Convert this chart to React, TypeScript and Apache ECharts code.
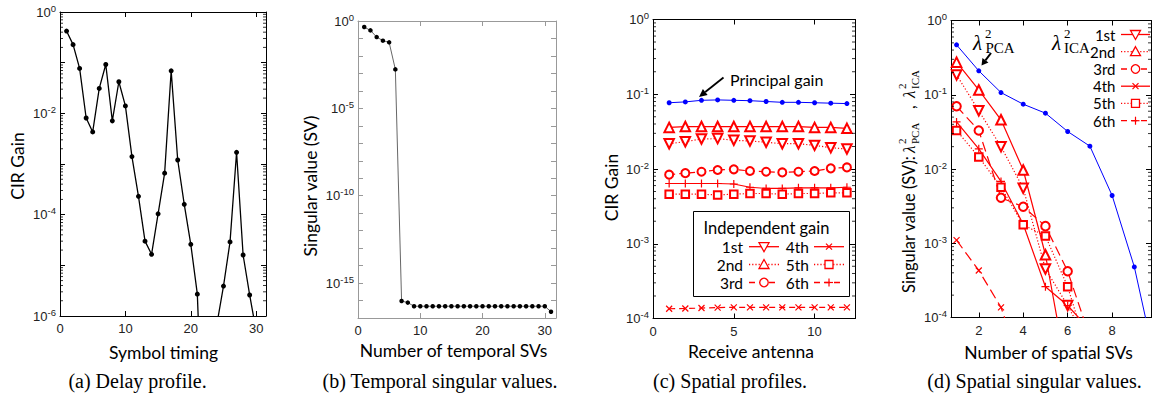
import React, { useEffect, useRef } from "react";
import * as echarts from "echarts";

const RED = "#ff0000";
const BLUE = "#0000ff";
const SANS = "Lato, 'Open Sans', sans-serif";
const SERIF = "'Liberation Serif', 'DejaVu Serif', serif";
const TICKF = "'Liberation Sans', Arial, sans-serif";

// (a) Delay profile
const symbolTiming = [1, 2, 3, 4, 5, 6, 7, 8, 9, 10, 11, 12, 13, 14, 15, 16, 17, 18, 19, 20, 21, 22, 23, 24, 25, 26, 27, 28, 29, 30, 31];
const delayGain = [0.42, 0.227, 0.077, 0.0081, 0.0043, 0.031, 0.092, 0.0071, 0.042, 0.014, 0.0014, 2.3e-4, 3.0e-5, 1.65e-5, 1.04e-4, 6.6e-4, 0.069, 0.0012, 1.6e-4, 2.6e-5, 2.7e-6, 1e-9, 1e-10, 7e-7, 3.9e-6, 2.9e-5, 0.0017, 1.6e-5, 2.6e-6, 5e-7, 1e-8];

// (b) Temporal singular values
const temporalIndex = [1, 2, 3, 4, 5, 6, 7, 8, 9, 10, 11, 12, 13, 14, 15, 16, 17, 18, 19, 20, 21, 22, 23, 24, 25, 26, 27, 28, 29, 30, 31];
const temporalSV = [0.45, 0.29, 0.12, 0.075, 0.06, 0.0017, 9.4e-17, 7.6e-17, 4.7e-17, 4.7e-17, 4.7e-17, 4.7e-17, 4.7e-17, 4.7e-17, 4.7e-17, 4.7e-17, 4.7e-17, 4.7e-17, 4.7e-17, 4.7e-17, 4.7e-17, 4.7e-17, 4.7e-17, 4.7e-17, 4.7e-17, 4.7e-17, 4.7e-17, 4.7e-17, 4.7e-17, 4.7e-17, 2.3e-17];

// (c) Spatial profiles
const antenna = [1, 2, 3, 4, 5, 6, 7, 8, 9, 10, 11, 12];
const principalGain = [0.077, 0.079, 0.083, 0.084, 0.083, 0.082, 0.080, 0.078, 0.078, 0.077, 0.076, 0.075];
const indepTriDown = [0.0218, 0.0232, 0.0252, 0.0255, 0.0242, 0.0237, 0.0228, 0.0218, 0.0218, 0.0207, 0.0193, 0.0185];
const indepTriUp = [0.036, 0.037, 0.037, 0.037, 0.037, 0.037, 0.037, 0.037, 0.037, 0.036, 0.036, 0.035];
const indepCircle = [0.0084, 0.0088, 0.0092, 0.0097, 0.0099, 0.0094, 0.0092, 0.0090, 0.0092, 0.0094, 0.0102, 0.0105];
const indepCross = [1.35e-4, 1.36e-4, 1.38e-4, 1.4e-4, 1.41e-4, 1.41e-4, 1.41e-4, 1.41e-4, 1.41e-4, 1.41e-4, 1.41e-4, 1.41e-4];
const indepSquare = [0.0046, 0.0046, 0.0046, 0.0045, 0.0046, 0.0047, 0.0047, 0.0046, 0.0047, 0.0047, 0.0048, 0.0048];
const indepPlus = [0.0064, 0.0064, 0.0064, 0.0064, 0.0063, 0.0057, 0.0055, 0.0055, 0.0056, 0.0056, 0.0056, 0.0057];

// (d) Spatial singular values
const spatialIndex = [1, 2, 3, 4, 5, 6, 7, 8, 9, 10];
const pcaSV = [0.47, 0.21, 0.107, 0.0746, 0.0565, 0.032, 0.0203, 0.0044, 4.8e-4, 2.1e-5];
const icaTriDown = [0.185, 0.061, 0.020, 0.0055, 4.5e-4, 1.45e-4, 4e-5];
const icaTriUp = [0.275, 0.116, 0.046, 0.0097, 7.0e-4, 1.6e-5];
const icaCircle = [0.070, 0.033, 0.0041, 0.0031, 0.0017, 4.2e-4, 5.4e-5];
const icaCross = [0.0011, 4.3e-4, 1.37e-4, 1.9e-5];
const icaSquare = [0.033, 0.0145, 0.0057, 0.00177, 0.00125, 2.6e-4, 2.8e-5];
const icaPlus = [0.043, 0.0187, 0.0068, 0.0018, 2.6e-4, 1.45e-4, 6.8e-5];

const legendLabels = ["1st", "2nd", "3rd", "4th", "5th", "6th"];
const minorMantissas = [2, 3, 4, 5, 6, 7, 8, 9];

const GRIDS = [
  { left: 60, top: 12, width: 206, height: 304 },
  { left: 358, top: 21, width: 198, height: 297 },
  { left: 653, top: 19.5, width: 202, height: 299 },
  { left: 951, top: 20.5, width: 200, height: 297 },
];

const CROSS = "path://M0,0L10,10M10,0L0,10";
const PLUS = "path://M5,0L5,10M0,5L10,5";

function pair(xs: number[], ys: number[]) {
  return ys.map((y, i) => [xs[i], y]);
}

function xAxes(gi: number, min: number, max: number, step: number, color: string, interval?: number) {
  const base: any = {
    type: "value",
    gridIndex: gi,
    min,
    max,
    splitLine: { show: false },
    axisLine: { show: true, onZero: false, lineStyle: { color, width: 1 } },
    axisTick: { show: true, inside: true, length: 5, lineStyle: { color, width: 1 } },
  };
  if (interval != null) base.interval = interval;
  else base.splitNumber = 4;
  return [
    {
      ...base,
      position: "bottom",
      axisLabel: {
        show: true,
        margin: 6,
        fontFamily: TICKF,
        fontSize: 13,
        color: "#222",
        formatter: (v: number) => (Math.abs(v / step - Math.round(v / step)) < 1e-6 ? String(Math.round(v)) : ""),
      },
    },
    { ...base, position: "top", axisLabel: { show: false } },
  ];
}

function yAxes(gi: number, minExp: number, maxExp: number, every: number, color: string) {
  const base: any = {
    type: "log",
    logBase: 10,
    gridIndex: gi,
    min: Math.pow(10, minExp),
    max: Math.pow(10, maxExp),
    interval: 1,
    splitNumber: 20,
    splitLine: { show: false },
    axisLine: { show: true, onZero: false, lineStyle: { color, width: 1 } },
    axisTick: { show: true, inside: true, length: 5, lineStyle: { color, width: 1 } },
  };
  return [
    {
      ...base,
      position: "left",
      axisLabel: {
        show: true,
        margin: 4,
        formatter: (v: number) => {
          const e = Math.round(Math.log10(v));
          if (e % every !== 0) return "";
          return `{b|10}{s|${e}}`;
        },
        rich: {
          b: { fontFamily: TICKF, fontSize: 13, lineHeight: 18, color: "#222", verticalAlign: "middle" },
          s: { fontFamily: TICKF, fontSize: 9.5, lineHeight: 10, color: "#222", verticalAlign: "top" },
        },
      },
    },
    { ...base, position: "right", axisLabel: { show: false } },
  ];
}

function minorTicks(gi: number, xv: number, minExp: number, maxExp: number, color: string) {
  const data: number[][] = [];
  for (let e = minExp; e < maxExp; e++) for (const m of minorMantissas) data.push([xv, m * Math.pow(10, e)]);
  return {
    type: "custom",
    xAxisIndex: 2 * gi,
    yAxisIndex: 2 * gi,
    silent: true,
    clip: false,
    z: 5,
    encode: { x: 0, y: 1 },
    data,
    renderItem: (params: any, api: any) => {
      const cs = params.coordSys;
      const p = api.coord([api.value(0), api.value(1)]);
      const y = p[1];
      return {
        type: "group",
        children: [
          { type: "line", shape: { x1: cs.x, y1: y, x2: cs.x + 3, y2: y }, style: { stroke: color, lineWidth: 0.8 } },
          { type: "line", shape: { x1: cs.x + cs.width - 3, y1: y, x2: cs.x + cs.width, y2: y }, style: { stroke: color, lineWidth: 0.8 } },
        ],
      };
    },
  };
}

function redLine(gi: number, xs: number[], ys: number[], symbol: string, size: number, dash: any, rotate = 0) {
  return {
    type: "line",
    xAxisIndex: 2 * gi,
    yAxisIndex: 2 * gi,
    data: pair(xs, ys),
    symbol,
    symbolSize: size,
    symbolRotate: rotate,
    showAllSymbol: true,
    lineStyle: { color: RED, width: 1.2, type: dash },
    itemStyle: { color: RED, borderColor: RED, borderWidth: 1.2 },
    clip: true,
    z: 3,
  };
}

function blueLine(gi: number, xs: number[], ys: number[]) {
  return {
    type: "line",
    xAxisIndex: 2 * gi,
    yAxisIndex: 2 * gi,
    data: pair(xs, ys),
    symbol: "circle",
    symbolSize: 5,
    lineStyle: { color: BLUE, width: 1 },
    itemStyle: { color: BLUE },
    clip: true,
    z: 4,
  };
}

const DOT = [1.2, 2];
const DASH_C = [6, 4];
const DASH_L = [10, 5];

function legendSymbol(kind: string, cx: number, cy: number, s: number): any[] {
  const st = { stroke: RED, lineWidth: 1.3, fill: "#fff" };
  const h = s / 2;
  switch (kind) {
    case "tu":
      return [{ type: "polygon", z: 101, shape: { points: [[cx, cy - h], [cx + h, cy + h * 0.8], [cx - h, cy + h * 0.8]] }, style: st }];
    case "td":
      return [{ type: "polygon", z: 101, shape: { points: [[cx - h, cy - h * 0.8], [cx + h, cy - h * 0.8], [cx, cy + h]] }, style: st }];
    case "o":
      return [{ type: "circle", z: 101, shape: { cx, cy, r: h * 0.85 }, style: st }];
    case "sq":
      return [{ type: "rect", z: 101, shape: { x: cx - h * 0.8, y: cy - h * 0.8, width: s * 0.8, height: s * 0.8 }, style: st }];
    case "x":
      return [
        { type: "line", z: 101, shape: { x1: cx - 3, y1: cy - 3, x2: cx + 3, y2: cy + 3 }, style: { stroke: RED, lineWidth: 1.2 } },
        { type: "line", z: 101, shape: { x1: cx - 3, y1: cy + 3, x2: cx + 3, y2: cy - 3 }, style: { stroke: RED, lineWidth: 1.2 } },
      ];
    default:
      return [
        { type: "line", z: 101, shape: { x1: cx - 4, y1: cy, x2: cx + 4, y2: cy }, style: { stroke: RED, lineWidth: 1.2 } },
        { type: "line", z: 101, shape: { x1: cx, y1: cy - 4, x2: cx, y2: cy + 4 }, style: { stroke: RED, lineWidth: 1.2 } },
      ];
  }
}

const legendKinds = ["td", "tu", "o", "x", "sq", "p"];
const legendDashes: any[] = [null, DOT, DASH_C, null, DOT, DASH_C];

function legendEntry(label: string, kind: string, dash: any, textRight: number, x1: number, x2: number, y: number, fontSize: number): any[] {
  const lineStyle: any = { stroke: RED, lineWidth: 1.3 };
  if (dash) lineStyle.lineDash = dash;
  return [
    { type: "text", z: 101, x: textRight, y, style: { text: label, font: `${fontSize}px ${SANS}`, fill: "#000", align: "right", verticalAlign: "middle" } },
    { type: "line", z: 101, shape: { x1, y1: y, x2, y2: y }, style: lineStyle },
    ...legendSymbol(kind, (x1 + x2) / 2, y, 10),
  ];
}

function arrow(x1: number, y1: number, tx: number, ty: number, headLen: number, headHalf: number, width: number): any[] {
  const dx = tx - x1;
  const dy = ty - y1;
  const L = Math.sqrt(dx * dx + dy * dy);
  const ux = dx / L;
  const uy = dy / L;
  const bx = tx - ux * headLen;
  const by = ty - uy * headLen;
  const px = -uy * headHalf;
  const py = ux * headHalf;
  return [
    { type: "line", z: 101, shape: { x1, y1, x2: bx, y2: by }, style: { stroke: "#000", lineWidth: width } },
    { type: "polygon", z: 101, shape: { points: [[tx, ty], [bx + px, by + py], [bx - px, by - py]] }, style: { fill: "#000" } },
  ];
}

function txt(text: string, x: number, y: number, font: string, extra: any = {}) {
  return { type: "text", z: 100, x, y, ...extra, style: { text, font, fill: "#000", align: "center", verticalAlign: "middle", ...(extra.style || {}) } };
}

function buildOption() {
  const xA = [
    ...xAxes(0, 0, 31.5, 10, "#000", 10),
    ...xAxes(1, 0, 31.8, 10, "#999", 10),
    ...xAxes(2, 0, 12.5, 5, "#000", 5),
    ...xAxes(3, 0.75, 9.75, 2, "#000"),
  ];
  const yA = [
    ...yAxes(0, -6, 0, 2, "#000"),
    ...yAxes(1, -17, 0, 5, "#999"),
    ...yAxes(2, -4, 0, 1, "#000"),
    ...yAxes(3, -4, 0, 1, "#000"),
  ];

  const series: any[] = [
    {
      type: "line",
      xAxisIndex: 0,
      yAxisIndex: 0,
      data: pair(symbolTiming, delayGain),
      symbol: "circle",
      symbolSize: 5,
      lineStyle: { color: "#000", width: 1.3 },
      itemStyle: { color: "#000" },
      clip: true,
    },
    {
      type: "line",
      xAxisIndex: 2,
      yAxisIndex: 2,
      data: pair(temporalIndex, temporalSV),
      symbol: "circle",
      symbolSize: 4.5,
      lineStyle: { color: "#555", width: 0.9 },
      itemStyle: { color: "#000" },
      clip: true,
    },
    blueLine(2, antenna, principalGain),
    redLine(2, antenna, indepTriUp, "emptyTriangle", 9.5, "solid"),
    redLine(2, antenna, indepTriDown, "emptyTriangle", 9.5, DOT, 180),
    redLine(2, antenna, indepCircle, "emptyCircle", 8, DASH_C),
    redLine(2, antenna, indepPlus, PLUS, 8, "solid"),
    redLine(2, antenna, indepSquare, "emptyRect", 7.5, DOT),
    redLine(2, antenna, indepCross, CROSS, 6, DASH_C),
    blueLine(3, spatialIndex, pcaSV),
    redLine(3, spatialIndex, icaTriUp, "emptyTriangle", 9.5, "solid"),
    redLine(3, spatialIndex, icaTriDown, "emptyTriangle", 9.5, DOT, 180),
    redLine(3, spatialIndex, icaCircle, "emptyCircle", 8.5, DASH_L),
    redLine(3, spatialIndex, icaPlus, PLUS, 8, "solid"),
    redLine(3, spatialIndex, icaSquare, "emptyRect", 7.5, DOT),
    redLine(3, spatialIndex, icaCross, CROSS, 6, DASH_L),
    minorTicks(0, 0, -6, 0, "#000"),
    minorTicks(2, 0, -4, 0, "#000"),
    minorTicks(3, 0.75, -4, 0, "#000"),
  ];

  const AX = `17.5px ${SANS}`;
  const AXD = `16.5px ${SANS}`;
  const CAP = `20px ${SERIF}`;
  const graphics: any[] = [
    // axis names
    txt("Symbol timing", 163.5, 352, AX),
    txt("Number of temporal SVs", 453.5, 350, AX),
    txt("Receive antenna", 751, 351.5, AX),
    txt("Number of spatial SVs", 1048.5, 352.5, AX),
    txt("CIR Gain", 17, 166, AX, { rotation: Math.PI / 2 }),
    txt("Singular value (SV)", 310, 186, AX, { rotation: Math.PI / 2 }),
    txt("CIR Gain", 611, 187.5, AX, { rotation: Math.PI / 2 }),
    // captions
    txt("(a) Delay profile.", 137.5, 381, CAP),
    txt("(b) Temporal singular values.", 440, 381, CAP),
    txt("(c) Spatial profiles.", 730, 381, CAP),
    txt("(d) Spatial singular values.", 1034.5, 381, CAP),
    // (d) y-axis name
    {
      type: "group",
      x: 909,
      y: 293,
      rotation: Math.PI / 2,
      z: 100,
      children: [
        { type: "text", x: 0, y: 0, style: { text: "Singular value (SV):", font: AXD, fill: "#000", align: "left", verticalAlign: "middle" } },
        { type: "text", x: 140, y: 0, style: { text: "λ", font: `italic 17px ${SERIF}`, fill: "#000", align: "left", verticalAlign: "middle" } },
        { type: "text", x: 149, y: -7, style: { text: "2", font: `11px ${SERIF}`, fill: "#000", align: "left", verticalAlign: "middle" } },
        { type: "text", x: 149, y: 6, style: { text: "PCA", font: `11px ${SERIF}`, fill: "#000", align: "left", verticalAlign: "middle" } },
        { type: "text", x: 184, y: 0, style: { text: ",", font: AXD, fill: "#000", align: "left", verticalAlign: "middle" } },
        { type: "text", x: 195, y: 0, style: { text: "λ", font: `italic 17px ${SERIF}`, fill: "#000", align: "left", verticalAlign: "middle" } },
        { type: "text", x: 204, y: -7, style: { text: "2", font: `11px ${SERIF}`, fill: "#000", align: "left", verticalAlign: "middle" } },
        { type: "text", x: 204, y: 6, style: { text: "ICA", font: `11px ${SERIF}`, fill: "#000", align: "left", verticalAlign: "middle" } },
      ],
    },
    // (c) principal gain annotation
    { type: "text", z: 100, x: 730, y: 79.5, style: { text: "Principal gain", font: `16px ${SANS}`, fill: "#000", align: "left", verticalAlign: "middle" } },
    ...arrow(723.5, 77.5, 699, 97, 8, 3.8, 1.8),
    // (c) legend box
    { type: "rect", z: 99, shape: { x: 693.5, y: 211.5, width: 156, height: 85 }, style: { fill: "#fff", stroke: "#000", lineWidth: 1 } },
    { type: "text", z: 101, x: 766.5, y: 228, style: { text: "Independent gain", font: `16.5px ${SANS}`, fill: "#000", align: "center", verticalAlign: "middle" } },
    // (d) lambda annotations
    { type: "text", z: 100, x: 973, y: 43, style: { text: "λ", font: `italic 21px ${SERIF}`, fill: "#000", align: "left", verticalAlign: "middle" } },
    { type: "text", z: 100, x: 985, y: 33, style: { text: "2", font: `13px ${SERIF}`, fill: "#000", align: "left", verticalAlign: "middle" } },
    { type: "text", z: 100, x: 985.5, y: 48, style: { text: "PCA", font: `15px ${SERIF}`, fill: "#000", align: "left", verticalAlign: "middle" } },
    ...arrow(991, 53, 981.5, 65.5, 6.5, 3.8, 2),
    { type: "text", z: 100, x: 1052, y: 43, style: { text: "λ", font: `italic 21px ${SERIF}`, fill: "#000", align: "left", verticalAlign: "middle" } },
    { type: "text", z: 100, x: 1064, y: 33, style: { text: "2", font: `13px ${SERIF}`, fill: "#000", align: "left", verticalAlign: "middle" } },
    { type: "text", z: 100, x: 1064, y: 48, style: { text: "ICA", font: `15px ${SERIF}`, fill: "#000", align: "left", verticalAlign: "middle" } },
  ];

  // (c) legend entries: two columns
  const cRows = [246.7, 264.5, 282.5];
  for (let i = 0; i < 6; i++) {
    const col = i < 3 ? 0 : 1;
    const row = i % 3;
    const textRight = col === 0 ? 743 : 809;
    const x1 = col === 0 ? 749 : 814;
    const x2 = col === 0 ? 779 : 844;
    graphics.push(...legendEntry(legendLabels[i], legendKinds[i], legendDashes[i], textRight, x1, x2, cRows[row], 15.5));
  }
  // (d) legend entries
  const dRows = [34.5, 51.7, 69, 86.2, 103.4, 120.7];
  for (let i = 0; i < 6; i++) {
    graphics.push(...legendEntry(legendLabels[i], legendKinds[i], legendDashes[i], 1115.5, 1121, 1150, dRows[i], 15));
  }

  return {
    animation: false,
    backgroundColor: "#fff",
    grid: GRIDS.map((g) => ({ ...g, show: false, containLabel: false })),
    xAxis: xA,
    yAxis: yA,
    series,
    graphic: { elements: graphics },
  };
}

export default function App() {
  const ref = useRef<HTMLDivElement>(null);
  useEffect(() => {
    if (!ref.current) return;
    const chart = echarts.init(ref.current, null, { renderer: "svg" });
    chart.setOption(buildOption() as any);
    return () => chart.dispose();
  }, []);
  return <div ref={ref} style={{ position: "absolute", left: 0, top: 0, width: 1156, height: 403, background: "#fff" }} />;
}
